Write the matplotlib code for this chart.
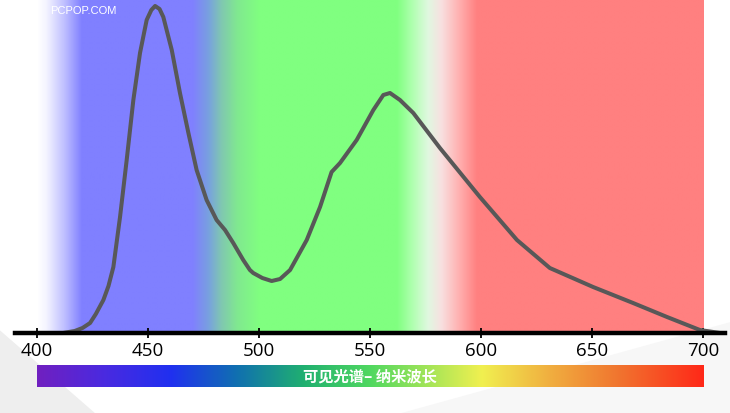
import numpy as np
import matplotlib
matplotlib.use("Agg")
import matplotlib.pyplot as plt
from matplotlib.colors import to_rgb
from matplotlib.patches import Polygon

plt.rcParams['font.family'] = ['Open Sans', 'Noto Sans CJK SC', 'DejaVu Sans']

# spectrum curve (wavelength nm, relative intensity)
wavelength = [400, 411.7, 417, 420.5, 423.9, 426.5, 429.9, 432.2, 434.4, 437.4, 440.4,
              443.4, 446.4, 449.4, 451.5, 453.2, 455.2, 456.9, 460.7, 464.4, 468.2,
              471.9, 476.4, 480.9, 484.7, 488.4, 492.9, 495.9, 497.4, 501.5, 505.7,
              509.5, 514, 521.5, 527.5, 532.7, 536.5, 544, 551.5, 556, 559, 563.5,
              569.5, 581.5, 599.5, 616.2, 631, 650.5, 668.5, 683.8, 698.6, 707.7]
intensity = [0, 0, 2, 5, 10, 19, 33, 47, 66, 116, 173,
             233, 280, 313, 323, 327, 324, 316, 283, 240, 200,
             163, 133, 113, 103, 90, 73, 63, 60, 55, 52,
             54, 63, 93, 126, 161, 170, 193, 223, 238, 240, 233,
             220, 185, 136, 93, 65, 46, 30, 16, 3, 0]

ticks = [400, 450, 500, 550, 600, 650, 700]
bar_label = "可见光谱– 纳米波长"

# background band colour stops
bg_nm = [400, 404, 412, 420, 470, 477, 483, 490, 500, 562, 569, 576, 582, 590, 598, 700]
bg_col = ['#ffffff', '#f4f4ff', '#c0c0ff', '#8080ff', '#8080ff', '#78a0e0', '#80c8b0',
          '#80e890', '#80ff80', '#80ff80', '#b0ffb0', '#e0f8e0', '#f8e0e0', '#ffb0b0',
          '#ff8080', '#ff8080']

# bottom rainbow bar colour stops
bar_nm = [400, 430, 460, 490, 520, 550, 600, 630, 660, 700]
bar_col = ['#7020c0', '#4a2ae0', '#2030f0', '#1070b0', '#20b070', '#50d860',
           '#f0f050', '#f0b040', '#f07830', '#ff2818']


def gradient(nm_stops, colors, n=600):
    xs = np.linspace(400, 700, n)
    rgb = np.array([to_rgb(c) for c in colors])
    img = np.stack([np.interp(xs, nm_stops, rgb[:, k]) for k in range(3)], axis=-1)
    return img[np.newaxis, :, :]


fig = plt.figure(figsize=(7.3, 4.13), dpi=100)
ax = fig.add_axes([0, 0, 1, 1])
ax.set_zorder(2)
ax.patch.set_alpha(0)
px = 2.22
ax.set_xlim(400 - 37 / px, 400 + (730 - 37) / px)
ax.set_ylim(-80, 333)

# decorative grey shading in the corners
fig.patches.append(Polygon([[0, 0], [0, 0.2], [0.13, 0]], closed=True,
                           transform=fig.transFigure, facecolor='#eeeeee',
                           edgecolor='none', zorder=0))
fig.patches.append(Polygon([[0.55, 0], [1, 0.22], [1, 0]], closed=True,
                           transform=fig.transFigure, facecolor='#f7f7f7',
                           edgecolor='none', zorder=0))

ax.imshow(gradient(bg_nm, bg_col), extent=[400, 700, 0, 333], aspect='auto',
          interpolation='bilinear', zorder=1)
ax.imshow(gradient(bar_nm, bar_col), extent=[400, 700, -54, -32], aspect='auto',
          interpolation='bilinear', zorder=1)

ax.plot(wavelength, intensity, color='#585858', lw=2.9, solid_capstyle='round',
        solid_joinstyle='round', zorder=3)

for spine in ['top', 'left', 'right']:
    ax.spines[spine].set_visible(False)
ax.spines['bottom'].set_position(('data', 0))
ax.spines['bottom'].set_bounds(390, 710)
ax.spines['bottom'].set_linewidth(3.2)
ax.spines['bottom'].set_zorder(4)
ax.set_xticks(ticks)
ax.set_yticks([])
ax.tick_params(axis='x', direction='inout', length=7, width=1.3, pad=3,
               labelsize=13.5, colors='black')

ax.text(550, -43, bar_label, color='white', fontsize=11, fontweight='bold',
        ha='center', va='center', family=['Noto Sans CJK SC', 'DejaVu Sans'], zorder=5)
ax.text(50 / px + 400 - 37 / px, 322, "PCPOP.COM", color='white', fontsize=8,
        ha='left', va='center', family='Liberation Sans', zorder=5)

fig.savefig("out.png", dpi=100)
